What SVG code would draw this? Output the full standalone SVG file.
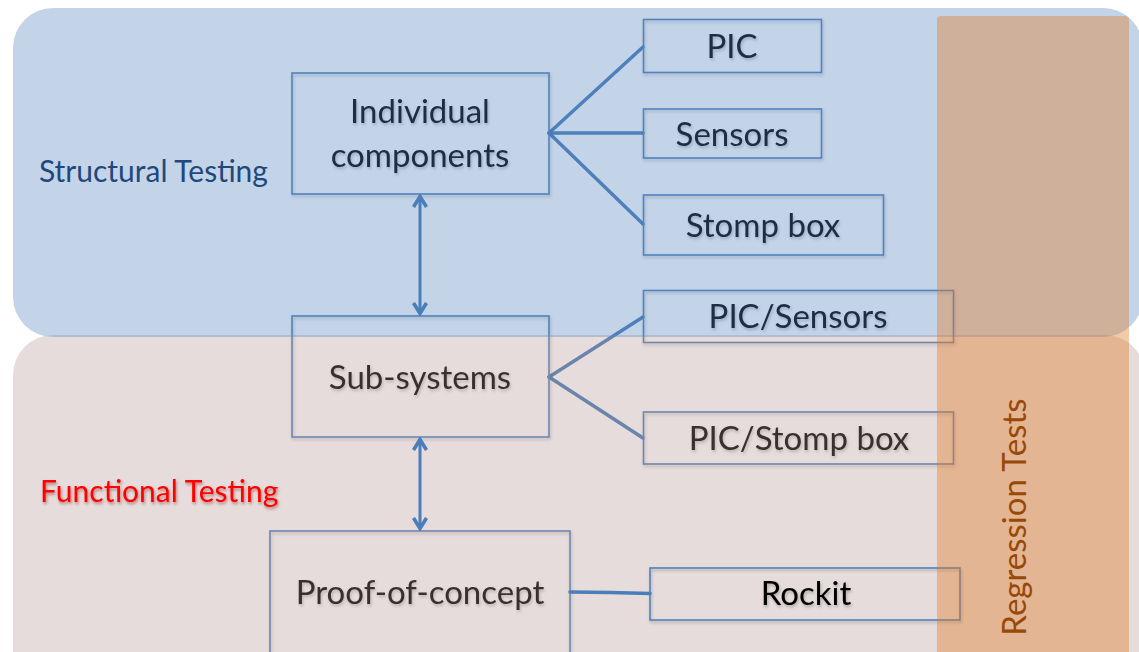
<svg xmlns="http://www.w3.org/2000/svg" width="1139" height="652" viewBox="0 0 1139 652">
  <defs>
    <style>
      .box { fill: none; stroke: #4F81BD; stroke-width: 1.6; }
      .lbl { font-family: Lato, "Open Sans", "Liberation Sans", sans-serif; font-size: 33px; fill: #000000; text-anchor: middle; }
      .side { font-family: Lato, "Open Sans", "Liberation Sans", sans-serif; font-size: 30px; }
      .fan { stroke: #4A7EBB; stroke-width: 3.5; fill: none; stroke-linecap: round; }
      .arw { stroke: #4A7EBB; stroke-width: 3; fill: none; }
    </style>
    <marker id="head" viewBox="0 0 16 16" refX="14" refY="8" markerWidth="16" markerHeight="16" markerUnits="userSpaceOnUse" orient="auto-start-reverse">
      <path d="M3,1.5 L13.5,8 L3,14.5" fill="none" stroke="#4A7EBB" stroke-width="3.6" stroke-linejoin="miter"/>
    </marker>
    <filter id="shadow" x="-10%" y="-10%" width="130%" height="130%">
      <feDropShadow dx="1" dy="2" stdDeviation="1.5" flood-color="#000" flood-opacity="0.25"/>
    </filter>
    <filter id="redglow" x="-10%" y="-30%" width="120%" height="160%">
      <feDropShadow dx="1" dy="2" stdDeviation="1.5" flood-color="#7a0000" flood-opacity="0.45"/>
    </filter>
  </defs>

  <rect x="0" y="0" width="1139" height="652" fill="#ffffff"/>

  <!-- connectors drawn beneath the testing-region tints -->
  <g id="connectors-fan">
    <line class="fan" x1="549" y1="133" x2="643" y2="47"/>
    <line class="fan" x1="549" y1="133" x2="643" y2="133"/>
    <line class="fan" x1="549" y1="133" x2="643" y2="224"/>
    <line class="fan" x1="549" y1="377" x2="643" y2="317"/>
    <line class="fan" x1="549" y1="377" x2="643" y2="438"/>
  </g>

  <g id="node-individual" filter="url(#shadow)">
    <rect class="box" x="292" y="73" width="257" height="121"/>
    <text class="lbl" x="420" y="123">Individual</text>
    <text class="lbl" x="420" y="167">components</text>
  </g>
  <g id="node-pic" filter="url(#shadow)">
    <rect class="box" x="643.5" y="19.5" width="178" height="53"/>
    <text class="lbl" x="732" y="58">PIC</text>
  </g>
  <g id="node-sensors" filter="url(#shadow)">
    <rect class="box" x="643.5" y="109" width="178" height="49"/>
    <text class="lbl" x="732" y="146">Sensors</text>
  </g>
  <g id="node-stompbox" filter="url(#shadow)">
    <rect class="box" x="643.5" y="195" width="240" height="60"/>
    <text class="lbl" x="763" y="237">Stomp box</text>
  </g>
  <g id="node-subsystems" filter="url(#shadow)">
    <rect class="box" x="292" y="316" width="257" height="121"/>
    <text class="lbl" x="420" y="389">Sub-systems</text>
  </g>
  <g id="node-pic-sensors" filter="url(#shadow)">
    <rect class="box" x="643.5" y="290.5" width="310" height="52"/>
    <text class="lbl" x="798" y="328">PIC/Sensors</text>
  </g>
  <g id="node-pic-stompbox" filter="url(#shadow)">
    <rect class="box" x="643.5" y="412" width="310" height="52"/>
    <text class="lbl" x="799" y="450">PIC/Stomp box</text>
  </g>
  <g id="node-proof" filter="url(#shadow)">
    <rect class="box" x="270" y="531" width="300" height="140"/>
    <text class="lbl" x="420" y="604">Proof-of-concept</text>
  </g>

  <!-- testing-region tints -->
  <g id="region-functional">
    <rect x="13" y="335" width="1132" height="360" rx="40" ry="40" fill="#B09290" fill-opacity="0.32"/>
  </g>
  <g id="region-structural">
    <rect x="13" y="8" width="1130" height="329" rx="40" ry="40" fill="#5684BD" fill-opacity="0.35"/>
  </g>

  <!-- connectors drawn above the tints -->
  <g id="connectors">
    <line class="arw" x1="420" y1="196" x2="420" y2="314" marker-start="url(#head)" marker-end="url(#head)"/>
    <line class="arw" x1="420" y1="439" x2="420" y2="529" marker-start="url(#head)" marker-end="url(#head)"/>
    <polyline class="fan" points="570,592 610,592.5 650,593.5"/>
  </g>

  <g id="node-rockit" filter="url(#shadow)">
    <rect class="box" x="650" y="568" width="310" height="52"/>
    <text class="lbl" x="806" y="605">Rockit</text>
  </g>

  <g id="label-structural">
    <text class="side" x="39" y="182" fill="#1F497D">Structural Testing</text>
  </g>
  <g id="label-functional">
    <text class="side" x="40" y="502" fill="#FF0000" filter="url(#redglow)">Functional Testing</text>
  </g>

  <g id="band-regression">
    <rect x="937" y="16" width="192" height="680" rx="4" ry="4" fill="#E27A25" fill-opacity="0.4"/>
    <text transform="translate(1026,517) rotate(-90)" x="0" y="0" text-anchor="middle" font-family="Lato, 'Open Sans', 'Liberation Sans', sans-serif" font-size="33" fill="#984807">Regression Tests</text>
  </g>
</svg>
